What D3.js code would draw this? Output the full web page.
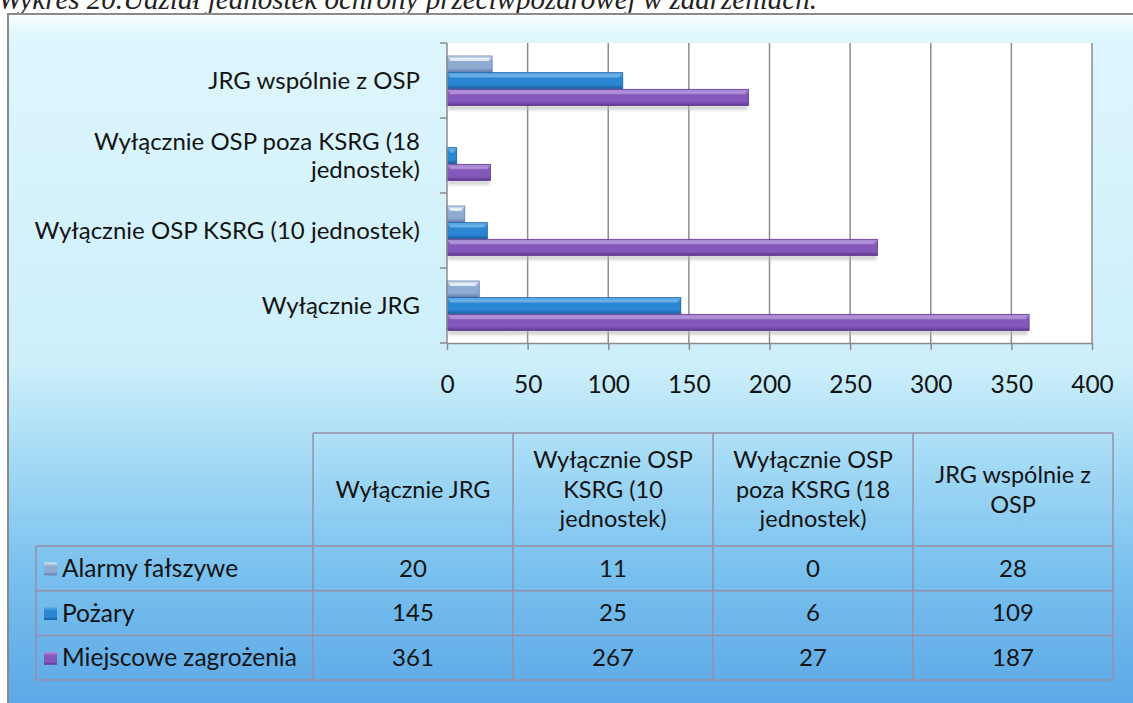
<!DOCTYPE html>
<html>
<head>
<meta charset="utf-8">
<script src="https://cdn.jsdelivr.net/npm/d3@7"></script>
<style>
  body { margin: 0; background: #fff; }
  svg { display: block; }
</style>
</head>
<body>
<svg id="chart" width="1133" height="703"></svg>
<script>
// categories from bottom to top as in the chart
const categories = ["Wyłącznie JRG", "Wyłącznie OSP KSRG (10 jednostek)", "Wyłącznie OSP poza KSRG (18 jednostek)", "JRG wspólnie z OSP"];
const axisLabelLines = [["Wyłącznie JRG"], ["Wyłącznie OSP KSRG (10 jednostek)"], ["Wyłącznie OSP poza KSRG (18", "jednostek)"], ["JRG wspólnie z OSP"]];
const headerLines = [["Wyłącznie JRG"], ["Wyłącznie OSP", "KSRG (10", "jednostek)"], ["Wyłącznie OSP", "poza KSRG (18", "jednostek)"], ["JRG wspólnie z", "OSP"]];
const seriesNames = ["Alarmy fałszywe", "Pożary", "Miejscowe zagrożenia"];
const alarmy = [20, 11, 0, 28];
const pozary = [145, 25, 6, 109];
const miejscowe = [361, 267, 27, 187];
const xTicks = [0, 50, 100, 150, 200, 250, 300, 350, 400];
const titleText = "Wykres 20.Udział jednostek ochrony przeciwpożarowej w zdarzeniach.";

const seriesValues = [alarmy, pozary, miejscowe];
const colors = [
    { top: "#dbe7f5", mid: "#8fabd2", bot: "#5f7fae" },
    { top: "#62b2ec", mid: "#2a86d2", bot: "#1a5c9e" },
    { top: "#b595e0", mid: "#8458bb", bot: "#5e3690" }
];
const font = "Lato, sans-serif";
const textColor = "#141414";

const svg = d3.select("#chart");
const defs = svg.append("defs");

// background gradient of the chart frame
const bg = defs.append("linearGradient").attr("id", "bg").attr("x1", 0).attr("y1", 0).attr("x2", 0).attr("y2", 1);
bg.append("stop").attr("offset", "0%").attr("stop-color", "#fbfeff");
bg.append("stop").attr("offset", "3%").attr("stop-color", "#def6fd");
bg.append("stop").attr("offset", "50%").attr("stop-color", "#cdeffb");
bg.append("stop").attr("offset", "62%").attr("stop-color", "#a9ddf6");
bg.append("stop").attr("offset", "80%").attr("stop-color", "#78c0ee");
bg.append("stop").attr("offset", "100%").attr("stop-color", "#5aa6e6");

colors.forEach((c, i) => {
    const g = defs.append("linearGradient").attr("id", "bar" + i).attr("x1", 0).attr("y1", 0).attr("x2", 0).attr("y2", 1);
    g.append("stop").attr("offset", "0%").attr("stop-color", c.top);
    g.append("stop").attr("offset", "30%").attr("stop-color", c.mid);
    g.append("stop").attr("offset", "75%").attr("stop-color", c.mid);
    g.append("stop").attr("offset", "100%").attr("stop-color", c.bot);
});

const shadow = defs.append("filter").attr("id", "blur").attr("x", "-5%").attr("y", "-50%").attr("width", "110%").attr("height", "200%");
shadow.append("feGaussianBlur").attr("stdDeviation", 1.5);

// title, partly cut off at the top edge like in the scan
svg.append("text")
    .attr("x", -2)
    .attr("y", 9)
    .attr("font-family", "Liberation Serif, serif")
    .attr("font-style", "italic")
    .attr("font-size", "29px")
    .attr("fill", "#222")
    .text(titleText);

// frame
svg.append("rect")
    .attr("x", 8).attr("y", 14)
    .attr("width", 1140).attr("height", 700)
    .attr("fill", "url(#bg)")
    .attr("stroke", "#8a8a8a")
    .attr("stroke-width", 2);

const plot = { left: 447, right: 1092, top: 43, bottom: 343 };

const x = d3.scaleLinear().domain([0, 400]).range([plot.left, plot.right]);
const y = d3.scaleBand().domain(categories.slice().reverse()).range([plot.top, plot.bottom]);
const ySub = d3.scaleBand().domain(d3.range(seriesNames.length)).range([13, y.bandwidth() - 12]);

svg.append("rect")
    .attr("x", plot.left).attr("y", plot.top)
    .attr("width", plot.right - plot.left).attr("height", plot.bottom - plot.top)
    .attr("fill", "#ffffff");

// vertical gridlines
svg.append("g")
    .selectAll("line")
    .data(xTicks.slice(1))
    .join("line")
    .attr("x1", d => x(d)).attr("x2", d => x(d))
    .attr("y1", plot.top).attr("y2", plot.bottom)
    .attr("stroke", "#8c8c8c")
    .attr("stroke-width", 1.5);

// bars
seriesValues.forEach((vals, s) => {
    const rows = categories.map((c, i) => ({ c, v: vals[i] })).filter(d => d.v > 0);
    const g = svg.append("g");
    g.selectAll("rect.shadow")
        .data(rows)
        .join("rect")
        .attr("class", "shadow")
        .attr("x", x(0) + 1)
        .attr("y", d => y(d.c) + ySub(s) + ySub.bandwidth() - 1)
        .attr("width", d => x(d.v) - x(0) - 2)
        .attr("height", 5)
        .attr("fill", "#b8b8b8")
        .attr("opacity", 0.6)
        .attr("filter", "url(#blur)");
    g.selectAll("rect.bar")
        .data(rows)
        .join("rect")
        .attr("class", "bar")
        .attr("x", x(0))
        .attr("y", d => y(d.c) + ySub(s))
        .attr("width", d => x(d.v) - x(0))
        .attr("height", ySub.bandwidth() - 0.5)
        .attr("fill", "url(#bar" + s + ")")
        .attr("stroke", colors[s].bot)
        .attr("stroke-width", 0.8);
    // highlight strip
    g.selectAll("rect.hl")
        .data(rows)
        .join("rect")
        .attr("class", "hl")
        .attr("x", x(0) + 3)
        .attr("y", d => y(d.c) + ySub(s) + 2)
        .attr("width", d => Math.max(0, x(d.v) - x(0) - 6))
        .attr("height", 3)
        .attr("fill", "#ffffff")
        .attr("opacity", s === 0 ? 0.7 : 0.25);
});

// left axis
const yAxis = svg.append("g")
    .attr("transform", `translate(${plot.left},0)`);
yAxis.append("line")
    .attr("x1", 0).attr("x2", 0)
    .attr("y1", plot.top).attr("y2", plot.bottom)
    .attr("stroke", "#8c8c8c").attr("stroke-width", 1.5);
yAxis.selectAll("line.tick")
    .data(categories.map(c => y(c)).concat([plot.bottom]))
    .join("line")
    .attr("class", "tick")
    .attr("x1", -7).attr("x2", 0)
    .attr("y1", d => d).attr("y2", d => d)
    .attr("stroke", "#8c8c8c").attr("stroke-width", 1.5);

yAxis.selectAll("text")
    .data(categories)
    .join("text")
    .attr("x", -27)
    .attr("y", d => y(d) + y.bandwidth() / 2)
    .attr("text-anchor", "end")
    .attr("font-family", font)
    .attr("font-size", "24px")
    .attr("fill", textColor)
    .each(function (d, i) {
        const lines = axisLabelLines[i];
        const t = d3.select(this);
        lines.forEach((line, k) => {
            t.append("tspan")
                .attr("x", -27)
                .attr("dy", k === 0 ? (0.35 - (lines.length - 1) * 0.57) + "em" : "1.14em")
                .text(line);
        });
    });

// bottom axis
const xAxis = svg.append("g")
    .attr("transform", `translate(0,${plot.bottom})`)
    .call(d3.axisBottom(x).tickValues(xTicks).tickSize(7).tickSizeOuter(0).tickPadding(26));
xAxis.select(".domain").attr("stroke", "#8c8c8c").attr("stroke-width", 1.5);
xAxis.selectAll(".tick line").attr("stroke", "#8c8c8c").attr("stroke-width", 1.5);
xAxis.selectAll(".tick text")
    .attr("font-family", font)
    .attr("font-size", "24.5px")
    .attr("fill", textColor);

// data table
const table = { legendLeft: 36, left: 313, right: 1113, top: 433, headerBottom: 546, rowH: 44.7 };
const colX = d3.scaleBand().domain(categories).range([table.left, table.right]);
const rowY = d3.scaleBand().domain(seriesNames).range([table.headerBottom, table.headerBottom + table.rowH * seriesNames.length]);
const tableBottom = rowY.range()[1];
const gridColor = "#9a8ea6";
const tg = svg.append("g");

// horizontal lines
tg.append("line").attr("x1", table.left).attr("x2", table.right)
    .attr("y1", table.top).attr("y2", table.top);
tg.selectAll("line.row")
    .data(seriesNames.map(s => rowY(s)).concat([tableBottom]))
    .join("line")
    .attr("class", "row")
    .attr("x1", table.legendLeft).attr("x2", table.right)
    .attr("y1", d => d).attr("y2", d => d);
// vertical lines
tg.append("line").attr("x1", table.legendLeft).attr("x2", table.legendLeft)
    .attr("y1", table.headerBottom).attr("y2", tableBottom);
tg.selectAll("line.col")
    .data(categories.map(c => colX(c)).concat([table.right]))
    .join("line")
    .attr("class", "col")
    .attr("x1", d => d).attr("x2", d => d)
    .attr("y1", table.top).attr("y2", tableBottom);
tg.selectAll("line").attr("stroke", gridColor).attr("stroke-width", 1.5);

// header text
tg.selectAll("text.head")
    .data(categories)
    .join("text")
    .attr("class", "head")
    .attr("text-anchor", "middle")
    .attr("font-family", font)
    .attr("font-size", "23.5px")
    .attr("fill", textColor)
    .attr("y", (table.top + table.headerBottom) / 2)
    .each(function (d, i) {
        const lines = headerLines[i];
        const t = d3.select(this);
        lines.forEach((line, k) => {
            t.append("tspan")
                .attr("x", colX(d) + colX.bandwidth() / 2)
                .attr("dy", k === 0 ? (0.35 - (lines.length - 1) * 0.63) + "em" : "1.26em")
                .text(line);
        });
    });

// legend cells and values
seriesNames.forEach((name, s) => {
    const cy = rowY(name) + rowY.bandwidth() / 2;
    tg.append("rect")
        .attr("x", 44).attr("y", cy - 6)
        .attr("width", 13).attr("height", 13)
        .attr("fill", "url(#bar" + s + ")");
    tg.append("text")
        .attr("x", 62).attr("y", cy)
        .attr("dy", "0.35em")
        .attr("font-family", font)
        .attr("font-size", "24.5px")
        .attr("fill", textColor)
        .text(name);
    tg.selectAll("text.v" + s)
        .data(categories)
        .join("text")
        .attr("class", "v" + s)
        .attr("x", d => colX(d) + colX.bandwidth() / 2)
        .attr("y", cy)
        .attr("dy", "0.35em")
        .attr("text-anchor", "middle")
        .attr("font-family", font)
        .attr("font-size", "24px")
        .attr("fill", textColor)
        .text((d, i) => seriesValues[s][i]);
});
</script>
</body>
</html>
